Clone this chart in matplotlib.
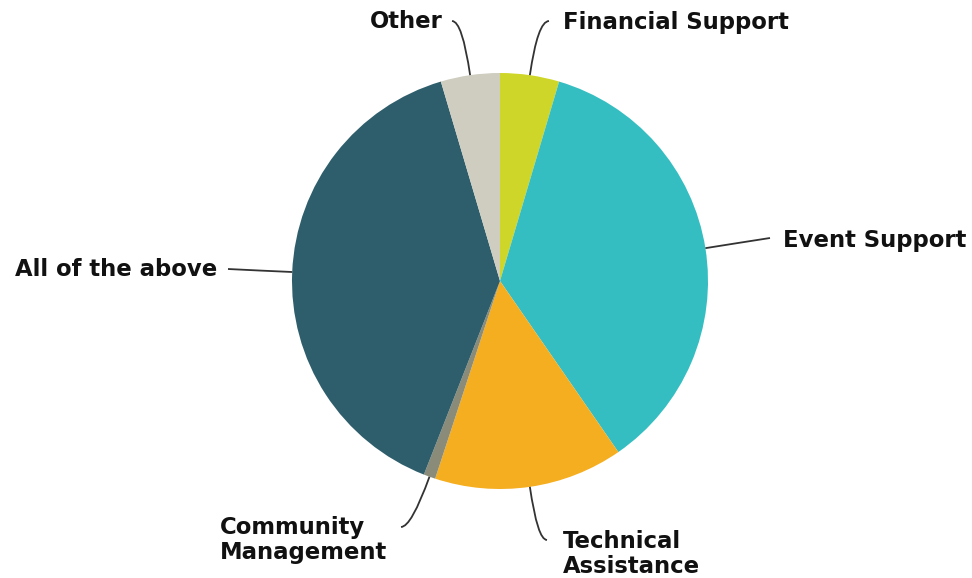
import numpy as np
import matplotlib.pyplot as plt
from matplotlib.path import Path
from matplotlib.patches import PathPatch

labels = ["Financial Support", "Event Support", "Technical\nAssistance",
          "Community\nManagement", "All of the above", "Other"]
counts = [5, 39, 16, 1, 43, 5]
colors = ["#cfd62a", "#35bec1", "#f5ae20", "#8b8b7a", "#2e5e6b", "#cfcdbf"]

# label placement (data coords = pixels, y up), alignment and leader end points
label_pos = [(563, 556), (783, 338), (563, 24), (220, 38), (217, 308), (443, 556)]
label_ha = ["left", "left", "left", "left", "right", "right"]
leader_end = [(549, 557), (770, 340), (547, 38), (401, 51), (228, 309), (452, 557)]

fig = plt.figure(figsize=(9.72, 5.78), dpi=100)
ax = fig.add_axes([0, 0, 1, 1])

center = (500, 297)
radius = 208

wedges, _ = ax.pie(
    counts,
    colors=colors,
    startangle=90,
    counterclock=False,
    center=center,
    radius=radius,
    frame=True,
    wedgeprops=dict(linewidth=0),
)
ax.set_xlim(0, 972)
ax.set_ylim(0, 578)
ax.set_aspect("equal")
ax.axis("off")

for w, lab, (tx, ty), ha, end in zip(wedges, labels, label_pos, label_ha, leader_end):
    ang = np.deg2rad((w.theta1 + w.theta2) / 2)
    d = np.array([np.cos(ang), np.sin(ang)])
    start = np.array(center) + radius * d
    end = np.array(end, dtype=float)
    if abs(d[1]) > 0.5:
        t = abs(end[1] - start[1]) / abs(d[1])
    else:
        t = abs(end[0] - start[0]) / abs(d[0]) / 2
    ctrl = start + d * t
    path = Path([start, ctrl, end], [Path.MOVETO, Path.CURVE3, Path.CURVE3])
    ax.add_patch(PathPatch(path, facecolor="none", edgecolor="#333333", linewidth=1.3))
    ax.text(tx, ty, lab, ha=ha, va="center", fontsize=16.4, fontweight="bold",
            color="#111111", linespacing=1.12, family="DejaVu Sans")

fig.savefig("out.png", dpi=100)
